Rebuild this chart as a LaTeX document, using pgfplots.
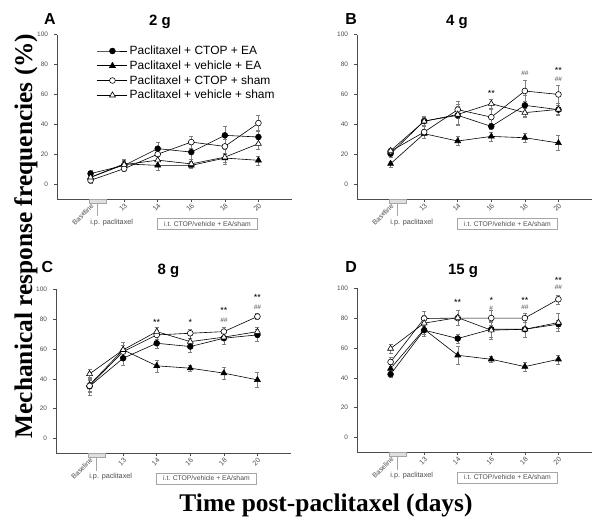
\documentclass[border=0pt]{standalone}
\usepackage{pgfplots}
\pgfplotsset{compat=1.18}
\usepackage{fontspec}
\setmainfont{Liberation Sans}
\newfontfamily\timesfont{Liberation Serif}
\definecolor{axgray}{gray}{0.3}
\definecolor{ebgray}{gray}{0.5}
\pgfplotsset{
  panel/.style={
    scale only axis, width=235bp, height=164.3bp,
    xmin=-1, xmax=6, ymin=-10, ymax=100,
    axis x line*=bottom, axis y line*=left,
    axis line style={-, draw=axgray, line width=0.6pt},
    xtick={0,...,5}, xticklabels={Baseline,13,14,16,18,20},
    ytick={0,20,...,100},
    tick align=outside, major tick length=3bp,
    tick style={draw=axgray, line width=0.5pt},
    x tick label style={rotate=45, anchor=north east, font=\fontsize{7}{8}\selectfont, text=axgray, inner sep=0.5pt},
    y tick label style={font=\fontsize{6.5}{7}\selectfont, text=axgray, xshift=-2.5bp},
    /pgf/number format/assume math mode=true,
    clip=false,
  },
  ser/.style={black, line width=0.6pt,
    error bars/y dir=both, error bars/y explicit,
    error bars/error bar style={ebgray, line width=0.4pt, solid},
    error bars/error mark options={rotate=90, mark size=2bp, ebgray, line width=0.4pt, solid}},
  fc/.style={ser, mark=*, mark size=2.9bp, mark options={solid, fill=black, draw=black}},
  ft/.style={ser, mark=triangle*, mark size=3.4bp, mark options={solid, fill=black, draw=black}},
  oc/.style={ser, mark=*, mark size=2.9bp, mark options={solid, fill=white, draw=black}},
  ot/.style={ser, mark=triangle*, mark size=3.4bp, mark options={solid, fill=white, draw=black}},
}
\newcommand{\deco}{%
  \draw[fill=gray!25, draw=gray!70, line width=0.4pt] (axis cs:-0.05,-10) rectangle (axis cs:0.46,-12.7);
  \draw[gray!70, line width=0.4pt] (axis cs:0.21,-12.7) -- (axis cs:0.21,-21.4);
  \node[font=\fontsize{7.3}{8}\selectfont, text=axgray, inner sep=0pt] at (axis cs:0.63,-25.6) {i.p. paclitaxel};
  \node[draw=gray!70, line width=0.4pt, fill=white, font=\fontsize{6.8}{7}\selectfont, text=axgray, minimum width=100bp, minimum height=11bp, inner sep=0pt] at (axis cs:3.48,-26.6) {i.t. CTOP/vehicle + EA/sham};
}
\begin{document}
\begin{tikzpicture}[x=1bp,y=1bp]
\useasboundingbox (0,0) rectangle (601,528);
% Panel A
\begin{axis}[panel, at={(57bp,329bp)}, anchor=south west,
  legend style={at={(rel axis cs:0.17,0.945)}, anchor=north west, draw=none, fill=none,
    font=\fontsize{12}{14}\selectfont, row sep=0.6bp, inner sep=0pt,
    nodes={inner sep=2bp}},
  legend cell align=left,
  legend image code/.code={\draw[mark repeat=2,mark phase=2] plot coordinates {(0bp,0bp) (15bp,0bp) (30bp,0bp)};}]
\addplot[fc] table[x=x,y=y,y error=e] {
x y e
0 7.0 2
1 12.5 3
2 23.7 4
3 21.4 5
4 32.6 6
5 31.5 4
};
\addlegendentry{Paclitaxel + CTOP + EA}
\addplot[ft] table[x=x,y=y,y error=e] {
x y e
0 4.5 2
1 13.5 3
2 12.5 3
3 12.5 2
4 17.4 3
5 15.9 3
};
\addlegendentry{Paclitaxel + vehicle + EA}
\addplot[oc] table[x=x,y=y,y error=e] {
x y e
0 2.5 2
1 10.3 2
2 20.0 4
3 28.1 4
4 25.2 5
5 40.8 5
};
\addlegendentry{Paclitaxel + CTOP + sham}
\addplot[ot] table[x=x,y=y,y error=e] {
x y e
0 4.5 3
1 13.0 3
2 16.0 4
3 13.5 2
4 18.0 5
5 27.0 4
};
\addlegendentry{Paclitaxel + vehicle + sham}
\deco
\end{axis}
% Panel B
\begin{axis}[panel, at={(357bp,329bp)}, anchor=south west]
\addplot[fc] table[x=x,y=y,y error=e] {
x y e
0 20.3 2
1 42.2 3
2 46.0 6
3 38.6 2
4 52.7 7
5 49.8 3
};
\addplot[ft] table[x=x,y=y,y error=e] {
x y e
0 13.6 2
1 33.7 3
2 28.8 3
3 31.9 3
4 31.0 3
5 27.5 5
};
\addplot[oc] table[x=x,y=y,y error=e] {
x y e
0 22.0 2
1 34.8 4
2 49.8 6
3 44.8 5
4 62.3 7
5 60.0 6
};
\addplot[ot] table[x=x,y=y,y error=e] {
x y e
0 22.3 2
1 42.0 3
2 46.6 7
3 53.8 3
4 47.8 3
5 50.0 4
};
\deco
\node[font=\fontsize{9}{10}\selectfont] at (axis cs:3,60.5) {**};
\node[font=\fontsize{6.5}{7}\selectfont, text=axgray] at (axis cs:4,73.9) {\#\#};
\node[font=\fontsize{9}{10}\selectfont] at (axis cs:5,76) {**};
\node[font=\fontsize{6.5}{7}\selectfont, text=axgray] at (axis cs:5,69.9) {\#\#};
\end{axis}
% Panel C
\begin{axis}[panel, at={(56bp,74.5bp)}, anchor=south west]
\addplot[fc] table[x=x,y=y,y error=e] {
x y e
0 35.0 4
1 53.8 5
2 63.8 3
3 61.6 4
4 67.2 4
5 69.4 4
};
\addplot[ft] table[x=x,y=y,y error=e] {
x y e
0 36.0 4
1 59.4 5
2 48.7 4
3 47.1 2
4 43.8 4
5 39.3 5
};
\addplot[oc] table[x=x,y=y,y error=e] {
x y e
0 35.3 6
1 58.2 4
2 69.4 3
3 70.5 3
4 71.6 3
5 81.7 2
};
\addplot[ot] table[x=x,y=y,y error=e] {
x y e
0 43.3 3
1 59.4 5
2 71.6 3
3 64.9 4
4 67.9 5
5 71.6 3
};
\deco
\node[font=\fontsize{9}{10}\selectfont] at (axis cs:2,77.6) {**};
\node[font=\fontsize{9}{10}\selectfont] at (axis cs:3,78) {*};
\node[font=\fontsize{9}{10}\selectfont] at (axis cs:4,85.7) {**};
\node[font=\fontsize{6.5}{7}\selectfont\itshape, text=axgray] at (axis cs:4,79.5) {\#\#};
\node[font=\fontsize{9}{10}\selectfont] at (axis cs:5,94.6) {**};
\node[font=\fontsize{6.5}{7}\selectfont\itshape, text=axgray] at (axis cs:5,88.2) {\#\#};
\end{axis}
% Panel D
\begin{axis}[panel, at={(357bp,75.5bp)}, anchor=south west]
\addplot[fc] table[x=x,y=y,y error=e] {
x y e
0 42.4 2
1 71.9 4
2 66.3 3
3 72.5 5
4 72.5 5
5 75.9 3
};
\addplot[ft] table[x=x,y=y,y error=e] {
x y e
0 46.2 3
1 72.5 3
2 55.1 6
3 52.4 2
4 47.5 3
5 52.4 3
};
\addplot[oc] table[x=x,y=y,y error=e] {
x y e
0 50.6 3
1 79.7 5
2 80.0 5
3 80.0 5
4 80.0 3
5 92.6 3
};
\addplot[ot] table[x=x,y=y,y error=e] {
x y e
0 59.6 3
1 76.6 5
2 80.3 5
3 71.9 6
4 72.5 5
5 77.0 6
};
\deco
\node[font=\fontsize{9}{10}\selectfont] at (axis cs:2,90.4) {**};
\node[font=\fontsize{9}{10}\selectfont] at (axis cs:3,91.5) {*};
\node[font=\fontsize{6.5}{7}\selectfont, text=axgray] at (axis cs:3,86.4) {\#};
\node[font=\fontsize{9}{10}\selectfont] at (axis cs:4,91.5) {**};
\node[font=\fontsize{6.5}{7}\selectfont, text=axgray] at (axis cs:4,87) {\#\#};
\node[font=\fontsize{9}{10}\selectfont] at (axis cs:5,104.9) {**};
\node[font=\fontsize{6.5}{7}\selectfont, text=axgray] at (axis cs:5,100.3) {\#\#};
\end{axis}
% Panel titles
\node[anchor=base, font=\fontsize{16}{18}\selectfont\bfseries] at (50,503) {A};
\node[anchor=base, font=\fontsize{15}{18}\selectfont\bfseries] at (160,502) {2 g};
\node[anchor=base, font=\fontsize{16}{18}\selectfont\bfseries] at (351,503) {B};
\node[anchor=base, font=\fontsize{15}{18}\selectfont\bfseries] at (457,502) {4 g};
\node[anchor=base, font=\fontsize{16}{18}\selectfont\bfseries] at (47.5,255) {C};
\node[anchor=base, font=\fontsize{15}{18}\selectfont\bfseries] at (168.5,253) {8 g};
\node[anchor=base, font=\fontsize{16}{18}\selectfont\bfseries] at (351,255) {D};
\node[anchor=base, font=\fontsize{15}{18}\selectfont\bfseries] at (463,253) {15 g};
% Axis titles
\node[anchor=base, rotate=90, font=\fontsize{25.5}{28}\timesfont\bfseries] at (32,292) {Mechanical response frequencies (\%)};
\node[anchor=base, font=\fontsize{25.5}{28}\timesfont\bfseries] at (326,16) {Time post-paclitaxel (days)};
\end{tikzpicture}
\end{document}
